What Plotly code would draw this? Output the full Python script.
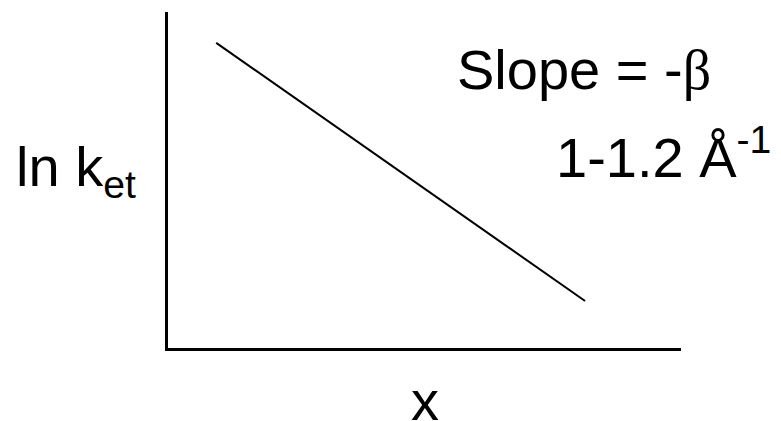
import plotly.graph_objects as go

# ---------------- data: ln k_et falls linearly with distance x ----------------
distance = [0.94, 8.13]
ln_ket = [9.08, 1.40]

slope_label = "Slope = -<span style=\"font-family:'Liberation Serif'\">β</span>"
beta_label = "1-1.2 Å<sup>-1</sup>"
y_label = "ln k<sub>et</sub>"
x_label = "x"

FONT = "Liberation Sans, Arial, sans-serif"

fig = go.Figure()
fig.add_trace(go.Scatter(
    x=distance,
    y=ln_ket,
    mode='lines',
    line=dict(color='black', width=2),
    hoverinfo='skip',
    showlegend=False
))

axis_style = dict(
    range=[0, 10],
    showline=True,
    linecolor='black',
    linewidth=2.5,
    showgrid=False,
    zeroline=False,
    showticklabels=False,
    ticks='',
    mirror=False
)

fig.update_layout(
    width=781,
    height=421,
    margin=dict(l=168, r=100, t=12, b=73),
    paper_bgcolor='white',
    plot_bgcolor='white',
    xaxis=axis_style,
    yaxis=axis_style,
    font=dict(family=FONT, color='black', size=56),
    annotations=[
        dict(text=slope_label, xref='paper', yref='paper', x=0.559, y=0.828,
             xanchor='left', yanchor='middle', showarrow=False),
        dict(text=beta_label, xref='paper', yref='paper', x=0.752, y=0.579,
             xanchor='left', yanchor='middle', showarrow=False),
        dict(text=y_label, xref='paper', yref='paper', x=-0.300, y=0.529,
             xanchor='left', yanchor='middle', showarrow=False),
        dict(text=x_label, xref='paper', yref='paper', x=0.501, y=-0.155,
             xanchor='center', yanchor='middle', showarrow=False),
    ]
)

# drop the browser's default 8px body margin so the figure sits at the page corner
fig.write_html("out.html", config={'displayModeBar': False},
               post_script="document.body.style.margin='0';")
